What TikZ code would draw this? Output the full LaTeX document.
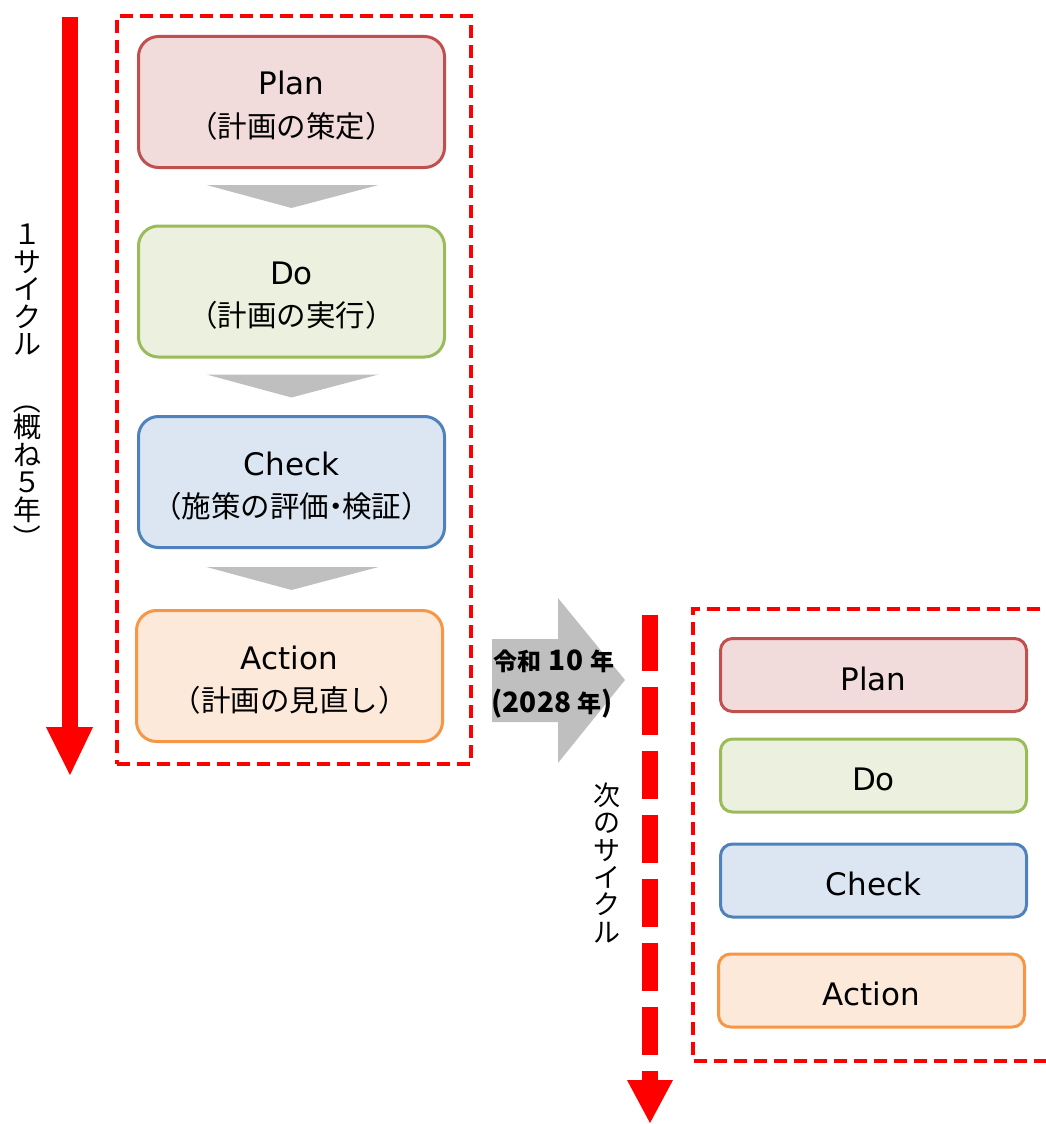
\documentclass[tikz,border=0pt]{standalone}
\usepackage{fontspec}
\setmainfont{Noto Sans CJK JP}
\newfontfamily\latfont{DejaVu Sans}
\usetikzlibrary{calc}
\definecolor{redA}{HTML}{FF0000}
\definecolor{grayA}{HTML}{BFBFBF}
\definecolor{planD}{HTML}{C0504D}\definecolor{planF}{HTML}{F2DCDB}
\definecolor{doD}{HTML}{9BBB59}\definecolor{doF}{HTML}{EBF1DE}
\definecolor{checkD}{HTML}{4F81BD}\definecolor{checkF}{HTML}{DCE6F2}
\definecolor{actD}{HTML}{F79646}\definecolor{actF}{HTML}{FDE9D9}
\newcommand{\digf}{\fontsize{28}{28}\selectfont}
\begin{document}
\begin{tikzpicture}[x=1pt,y=-1pt,
  bigbox/.style={draw, line width=3pt, rounded corners=20pt, minimum width=306pt, minimum height=131pt, inner sep=0pt},
  smallbox/.style={draw, line width=3pt, rounded corners=12pt, minimum width=306pt, minimum height=73pt, inner sep=0pt},
  planc/.style={draw=planD, fill=planF},
  doc/.style={draw=doD, fill=doF},
  checkc/.style={draw=checkD, fill=checkF},
  actc/.style={draw=actD, fill=actF},
  entxt/.style={font=\latfont\fontsize{31}{31}\selectfont, anchor=base, inner sep=0pt},
  jatxt/.style={font=\fontsize{29.5}{30}\selectfont, anchor=base, inner sep=0pt},
  vtxt/.style={font=\fontsize{28}{28}\selectfont, anchor=base, inner sep=0pt},
  vpar/.style={font=\fontsize{28}{28}\selectfont, rotate=-90, inner sep=0pt},
  vtxtb/.style={font=\fontsize{27}{27}\selectfont, anchor=base, inner sep=0pt},
  gtxt/.style={font=\bfseries\fontsize{24}{24}\selectfont, anchor=base, inner sep=0pt},
  dashbox/.style={draw=redA, line width=4.5pt, dash pattern=on 13pt off 7pt},
]
\useasboundingbox (0,0) rectangle (1046,1124);

% left vertical arrow
\coordinate (la0) at (70,17);
\coordinate (la1) at (70,728);
\draw[redA, line width=16pt] (la0) -- (la1);
\fill[redA] (46,727) -- (93,727) -- (70,775) -- cycle;

% left vertical text
\foreach \c/\k in {１/0,サ/1,イ/2,ク/3,ル/4,概/7,ね/8,５/9,年/10}
  \node[vtxt] (lv\k) at (27,{234+27.6*\k+10.5}) {\c};
\node[vpar] (lv6) at (27,400) {（};
\node[vpar] (lv11) at (27,538) {）};

% left dashed frame
\node[dashbox, minimum width=354pt, minimum height=748pt, inner sep=0pt] (lframe) at (294,390) {};

% left boxes
\node[bigbox, planc] (p1) at (291.5,102) {};
\node[bigbox, doc] (d1) at (291.5,291.5) {};
\node[bigbox, checkc] (c1) at (291.5,482) {};
\node[bigbox, actc] (a1) at (289.5,676) {};

\node[entxt] (p1e) at ($(p1.center)+(0,-7)$) {Plan};
\node[jatxt] (p1j) at ($(p1.center)+(0,35)$) {（計画の策定）};
\node[entxt] (d1e) at ($(d1.center)+(0,-7)$) {Do};
\node[jatxt] (d1j) at ($(d1.center)+(0,35)$) {（計画の実行）};
\node[entxt] (c1e) at ($(c1.center)+(0,-7)$) {Check};
\node[jatxt] (c1j) at ($(c1.center)+(0,35)$) {（施策の評価\kern-0.28em・\kern-0.28em 検証）};
\node[entxt] (a1e) at ($(a1.center)+(0,-7)$) {Action};
\node[jatxt] (a1j) at ($(a1.center)+(0,35)$) {（計画の見直し）};

% gray chevrons
\fill[grayA] ($(p1.south)+(-85,16)$) -- ($(p1.south)+(87,16)$) -- ($(p1.south)+(0,39)$) -- cycle;
\fill[grayA] ($(d1.south)+(-85,16)$) -- ($(d1.south)+(87,16)$) -- ($(d1.south)+(0,39)$) -- cycle;
\fill[grayA] ($(c1.south)+(-85,18)$) -- ($(c1.south)+(87,18)$) -- ($(c1.south)+(0,41)$) -- cycle;

% big gray arrow
\fill[grayA] (492,639) -- (558,639) -- (558,598) -- (625,680) -- (558,763) -- (558,722) -- (492,722) -- cycle;
\node[gtxt] (g1) at (554,670) {令和\hspace{7pt}{\digf 10}\hspace{7pt}年};
\node[gtxt] (g2) at (552,712) {{\digf (2028}\hspace{6pt}年{\digf )}};

% right dashed arrow
\coordinate (ra0) at (650,615);
\coordinate (ra1) at (650,671);
\coordinate (ra2) at (650,687);
\coordinate (ra3) at (650,1081);
\draw[redA, line width=16pt] (ra0) -- (ra1);
\draw[redA, line width=16pt, dash pattern=on 48pt off 16pt] (ra2) -- (ra3);
\fill[redA] (627,1080) -- (673,1080) -- (650,1123) -- cycle;

% right vertical text
\foreach \c/\k in {次/0,の/1,サ/2,イ/3,ク/4,ル/5}
  \node[vtxtb] (rv\k) at (607,{795+27.4*\k+10.3}) {\c};

% right dashed frame (open to the right)
\begin{scope}
\clip (0,0) rectangle (1046,1124);
\coordinate (rf0) at (1060,609);
\coordinate (rf1) at (693,609);
\coordinate (rf2) at (693,1061);
\coordinate (rf3) at (1060,1061);
\draw[dashbox] (rf0) -- (rf1) -- (rf2) -- (rf3);
\end{scope}

% right boxes
\node[smallbox, planc] (p2) at (873.5,675) {};
\node[smallbox, doc] (d2) at (873.5,775.5) {};
\node[smallbox, checkc] (c2) at (873.5,880.5) {};
\node[smallbox, actc] (a2) at (871.5,990.5) {};
\node[entxt] (p2e) at ($(p2.center)+(0,15)$) {Plan};
\node[entxt] (d2e) at ($(d2.center)+(0,15)$) {Do};
\node[entxt] (c2e) at ($(c2.center)+(0,15)$) {Check};
\node[entxt] (a2e) at ($(a2.center)+(0,15)$) {Action};
\end{tikzpicture}
\end{document}
